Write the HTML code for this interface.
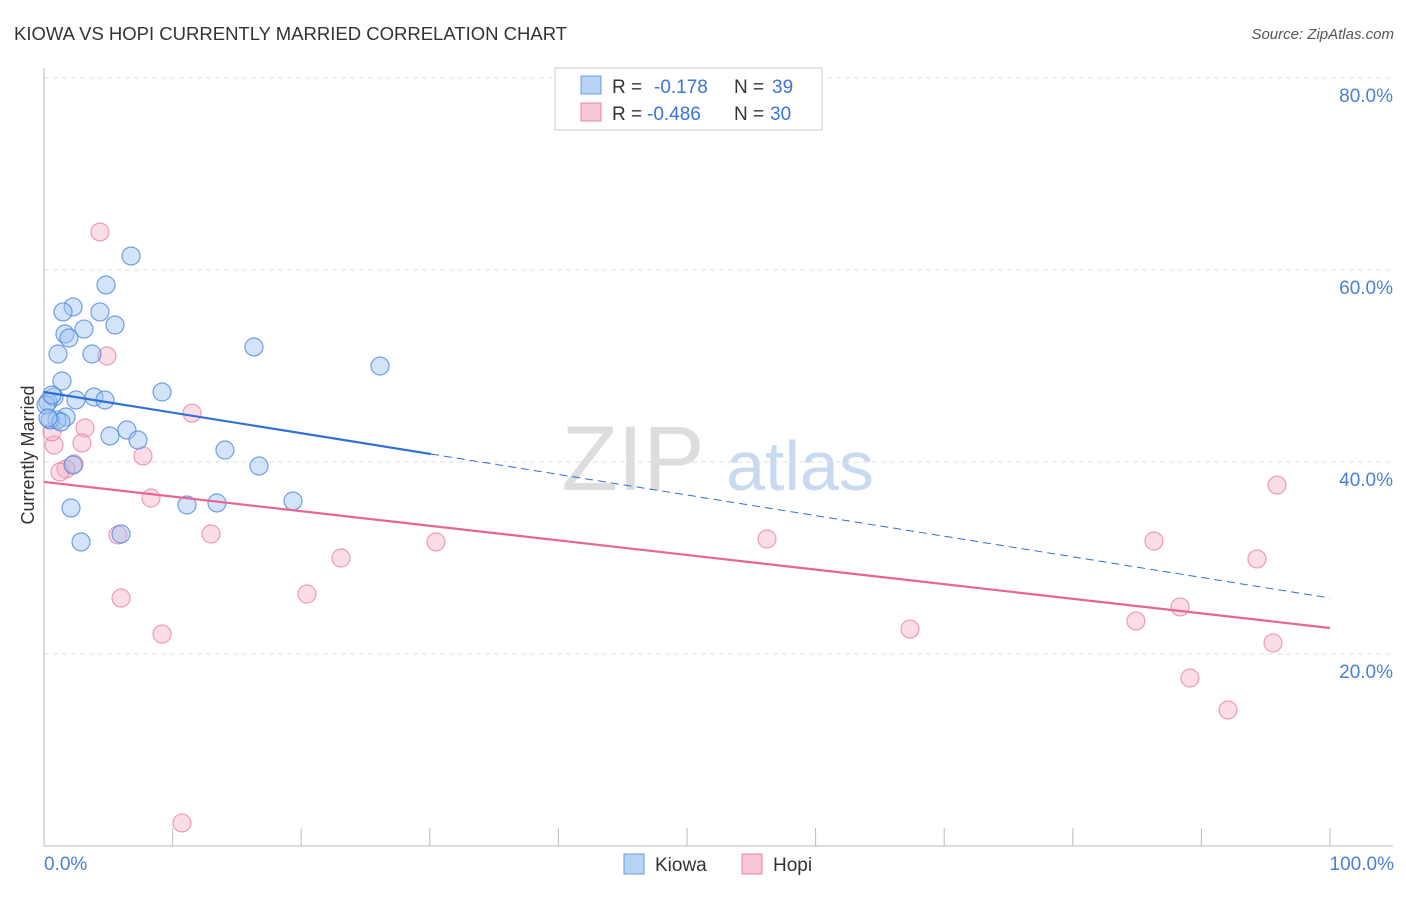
<!DOCTYPE html>
<html><head><meta charset="utf-8"><style>
body{margin:0;background:#fff;font-family:"Liberation Sans",sans-serif}
svg text{font-family:"Liberation Sans",sans-serif}
</style></head><body>
<svg id="c" width="1406" height="892">
<text x="14" y="40" font-size="18.5" fill="#333">KIOWA VS HOPI CURRENTLY MARRIED CORRELATION CHART</text>
<text x="1394" y="39" font-size="15" fill="#555" font-style="italic" text-anchor="end">Source: ZipAtlas.com</text>
<text x="633" y="490" font-size="92" fill="#ddd" font-family="Liberation Serif" text-anchor="middle">ZIP</text>
<text x="800" y="490" font-size="70" fill="#c9daf0" text-anchor="middle">atlas</text>
<text transform="translate(34,455) rotate(-90)" font-size="18" fill="#333" text-anchor="middle">Currently Married</text>
<g id="grid"></g><g id="axes"></g><g id="pts"></g><g id="trend"></g>
<g>
<rect x="555" y="68" width="267" height="62" fill="#fff" stroke="#ccc"/>
<rect x="581" y="76" width="20" height="18" fill="#b8d3f4" stroke="#6a9be0"/>
<text x="612" y="93" font-size="19" fill="#333">R =</text>
<text x="654" y="93" font-size="19" fill="#3b73d6">-0.178</text>
<text x="734" y="93" font-size="19" fill="#333">N =</text>
<text x="772" y="93" font-size="19" fill="#3b73d6">39</text>
<rect x="581" y="103" width="20" height="18" fill="#f9c6d6" stroke="#e8869f"/>
<text x="612" y="120" font-size="19" fill="#333">R =</text>
<text x="647" y="120" font-size="19" fill="#3b73d6">-0.486</text>
<text x="734" y="120" font-size="19" fill="#333">N =</text>
<text x="770" y="120" font-size="19" fill="#3b73d6">30</text>
</g>
<g>
<rect x="624" y="854" width="20" height="20" fill="#b8d3f4" stroke="#6a9be0"/>
<text x="655" y="871" font-size="19" fill="#333">Kiowa</text>
<rect x="742" y="854" width="20" height="20" fill="#f9c6d6" stroke="#e8869f"/>
<text x="773" y="871" font-size="19" fill="#333">Hopi</text>
</g>
</svg>
<script>
const kiowaX=[6.77,4.82,2.26,1.48,4.35,5.52,3.11,1.63,1.94,1.09,3.73,16.33,26.13,1.40,9.18,0.78,3.89,2.49,4.74,0.31,1.71,1.01,0.47,1.32,6.45,5.13,7.31,14.07,16.72,2.26,11.12,13.45,19.36,2.10,5.99,2.88,0.16,0.62,0.31];
const kiowaY=[61.46,58.44,56.15,55.63,55.63,54.27,53.85,53.33,52.92,51.25,51.25,51.98,50.0,48.44,47.29,46.77,46.77,46.46,46.46,46.25,44.69,44.38,44.38,44.17,43.33,42.71,42.29,41.25,39.58,39.69,35.52,35.73,35.94,35.21,32.5,31.67,45.94,46.98,44.58];
const hopiX=[4.35,4.90,11.51,3.19,2.95,0.78,0.62,7.70,2.33,1.71,1.24,8.32,5.75,12.99,23.09,30.48,56.22,20.45,5.99,9.18,67.34,10.73,86.31,88.34,84.91,89.11,92.07,94.32,95.88,95.57];
const hopiY=[63.96,51.04,45.10,43.54,41.98,41.77,43.13,40.63,39.79,39.27,38.96,36.25,32.40,32.50,30.0,31.67,31.98,26.25,25.83,22.08,22.60,2.40,31.77,24.90,23.44,17.50,14.17,29.90,37.60,21.15];
const yTicks=[20,40,60,80];
const xTickLabels=["0.0%","100.0%"];
const kiowaTrend=[47.29,25.83], kiowaSolidEnd=30.1;
const hopiTrend=[37.92,22.71];
const NS="http://www.w3.org/2000/svg";
const sx=v=>44+v*12.86, sy=v=>846-v*9.6;
function mk(tag,attrs,parent){const e=document.createElementNS(NS,tag);for(const k in attrs)e.setAttribute(k,attrs[k]);document.getElementById(parent).appendChild(e);return e;}
yTicks.forEach(t=>{
 const l=mk('line',{x1:44,x2:1393,y1:sy(t),y2:sy(t),stroke:'#ddd','stroke-dasharray':'5,4'},'grid');
 
 
 const tx=mk('text',{x:1393,y:sy(t)+24,'font-size':19,fill:'#4a7fd4','text-anchor':'end'},'grid');
 tx.textContent=t.toFixed(1)+'%';
 
 
});
const ax=mk('line',{x1:44,x2:44,y1:68,y2:846,stroke:'#bbb'},'axes');


const bx=mk('line',{x1:44,x2:1393,y1:846,y2:846,stroke:'#bbb'},'axes');


for(let i=1;i<=10;i++){const t=mk('line',{x1:sx(i*10),x2:sx(i*10),y1:828,y2:846,stroke:'#bbb'},'axes');
 
 }
[[0,'start',44],[100,'end',1394]].forEach((d,i)=>{const t=mk('text',{x:d[2],y:870,'font-size':19,fill:'#4a7fd4','text-anchor':d[1]},'axes');t.textContent=xTickLabels[i];
 
 });
hopiX.forEach((x,i)=>{const c=mk('circle',{cx:sx(x),cy:sy(hopiY[i]),r:9,fill:'rgba(246,170,196,0.4)',stroke:'rgba(232,120,155,0.7)','stroke-width':1.2},'pts');
 
 });
kiowaX.forEach((x,i)=>{const c=mk('circle',{cx:sx(x),cy:sy(kiowaY[i]),r:9,fill:'rgba(160,196,240,0.45)',stroke:'rgba(70,130,220,0.75)','stroke-width':1.2},'pts');
 
 });
const kAt=x=>kiowaTrend[0]+(kiowaTrend[1]-kiowaTrend[0])*x/100;
const k1=mk('line',{x1:sx(0),y1:sy(kAt(0)),x2:sx(kiowaSolidEnd),y2:sy(kAt(kiowaSolidEnd)),stroke:'#2f6fd6','stroke-width':2.2},'trend');


const k2=mk('line',{x1:sx(kiowaSolidEnd),y1:sy(kAt(kiowaSolidEnd)),x2:sx(100),y2:sy(kAt(100)),stroke:'#2f6fd6','stroke-width':1,'stroke-dasharray':'8,5'},'trend');


const h1=mk('line',{x1:sx(0),y1:sy(hopiTrend[0]),x2:sx(100),y2:sy(hopiTrend[1]),stroke:'#e8658f','stroke-width':2.2},'trend');


</script>
</body></html>
